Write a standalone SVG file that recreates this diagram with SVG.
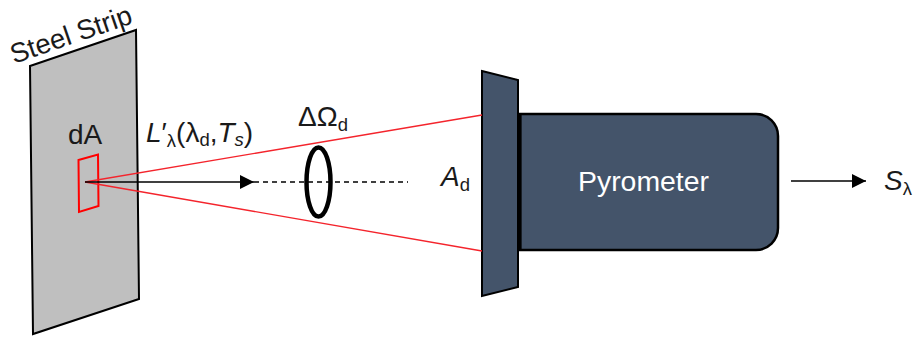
<svg xmlns="http://www.w3.org/2000/svg" width="913" height="343" viewBox="0 0 913 343">
<style>
text{font-family:"Liberation Sans",Arial,sans-serif;fill:#1a1a1a;font-size:28px}
.sub{font-size:18.500px}
.i{font-style:italic}
.red{fill:none;stroke:#f4242c;stroke-width:1.400}
.blk{fill:none;stroke:#000;stroke-width:1.500}
.dark{fill:#44546a;stroke:#000}
</style>
<defs>
<marker id="ah" markerUnits="userSpaceOnUse" markerWidth="15" markerHeight="14" refX="14" refY="7" orient="auto"><path d="M0 0L14 7L0 14Z" fill="#000"/></marker>
</defs>
<g id="steel-strip">
<polygon points="30,66 136,30 139,299 33,334" fill="#bfbfbf" stroke="#000" stroke-width="2"/>
<text transform="translate(14,64) rotate(-19)" style="font-size:27.500px">Steel Strip</text>
</g>
<g id="dA">
<polygon points="78.500,160 98,154.500 98.500,206 79,212" fill="none" stroke="#f00" stroke-width="2"/>
<text x="68" y="144">dA</text>
</g>
<g id="lens">
<ellipse cx="318.500" cy="182" rx="12" ry="34.500" fill="none" stroke="#000" stroke-width="4.500"/>
<text x="298" y="126">ΔΩ<tspan class="sub" dy="5">d</tspan></text>
</g>
<g id="aperture">
<polygon class="dark" points="482,71 518,80 518,287 482,296" stroke-width="2"/>
<text x="441" y="186" class="i">A<tspan class="sub" dy="5" font-style="normal">d</tspan></text>
</g>
<g id="pyrometer">
<path class="dark" d="M520 114H756A22 22 0 0 1 778 136V228A22 22 0 0 1 756 250H520Z" stroke-width="2.500"/>
<rect x="518" y="114" width="3.500" height="136" fill="#000"/>
<text x="578" y="191" style="fill:#fff;font-size:28.400px">Pyrometer</text>
</g>
<g id="labels">
<text x="146" y="142"><tspan class="i">L</tspan>′<tspan class="sub" dy="5">λ</tspan><tspan dy="-5">(λ</tspan><tspan class="sub" dy="4">d</tspan><tspan dy="-4">,</tspan><tspan class="i">T</tspan><tspan class="sub i" dy="4">s</tspan><tspan dy="-4">)</tspan></text>
<text x="884" y="190" class="i">S<tspan class="sub" dy="5" font-style="normal">λ</tspan></text>
</g>
<g id="connectors">
<line class="red" x1="85" y1="182" x2="482" y2="115"/>
<line class="red" x1="85" y1="182" x2="482" y2="251"/>
<line x1="254" y1="182" x2="408" y2="182" stroke="#000" stroke-width="1.500" stroke-dasharray="5 4"/>
<line class="blk" x1="85" y1="182" x2="254" y2="182" marker-end="url(#ah)"/>
<line class="blk" x1="791" y1="181" x2="866" y2="181" marker-end="url(#ah)"/>
</g>
</svg>
